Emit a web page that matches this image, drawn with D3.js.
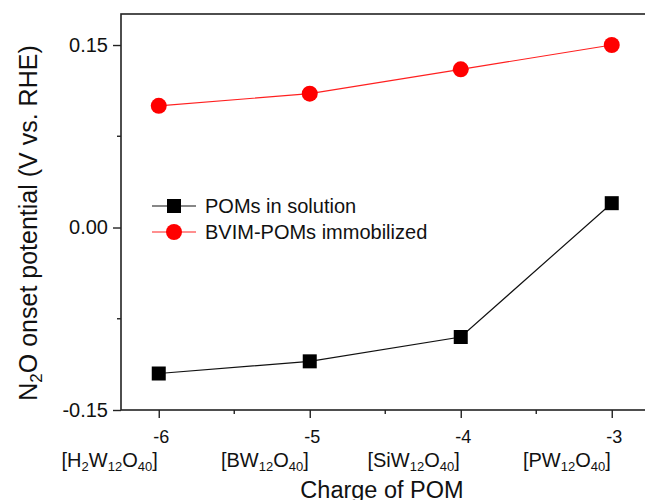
<!DOCTYPE html>
<html><head><meta charset="utf-8">
<script src="https://cdn.jsdelivr.net/npm/d3@7"></script>
<style>body{margin:0;background:#fff}svg{display:block}text{font-family:"Liberation Sans",Arial,sans-serif;fill:#111}</style>
</head><body><svg id="c" width="645" height="500"></svg>
<script>
const charges = [-6, -5, -4, -3];
const formulas = [
  [["[H",0],["2",1],["W",0],["12",1],["O",0],["40",1],["]",0]],
  [["[BW",0],["12",1],["O",0],["40",1],["]",0]],
  [["[SiW",0],["12",1],["O",0],["40",1],["]",0]],
  [["[PW",0],["12",1],["O",0],["40",1],["]",0]]
];
const solution = [-0.120, -0.110, -0.090, 0.020];
const immobilized = [0.100, 0.110, 0.130, 0.150];
const yTicks = [-0.15, 0.00, 0.15];
const yMinor = [-0.075, 0.075];
const xMinor = [-5.5, -4.5, -3.5];

const svg = d3.select("#c");
const L = 121, R = 649.5, T = 14, B = 410;
const x = d3.scaleLinear().domain([-6.25, -2.75]).range([L, R]);
const y = d3.scaleLinear().domain([-0.15, 0.1755]).range([B, T]);
const hy = s => s.replace("\u2212", "-");

// frame
svg.append("rect").attr("x", L).attr("y", T).attr("width", R - L).attr("height", B - T)
  .attr("fill", "none").attr("stroke", "#222").attr("stroke-width", 1.6);

// y axis
const ya = svg.append("g").attr("transform", `translate(${L},0)`)
  .call(d3.axisLeft(y).tickValues(yTicks).tickSize(8).tickPadding(5).tickFormat(d => hy(d3.format(".2f")(d))));
ya.select(".domain").remove();
ya.selectAll("line").attr("stroke", "#222").attr("stroke-width", 1.4);
ya.selectAll("text").attr("font-size", 20).style("fill", "#111");
svg.append("g").selectAll("line").data(yMinor).join("line")
  .attr("x1", L - 4).attr("x2", L).attr("y1", d => y(d)).attr("y2", d => y(d))
  .attr("stroke", "#222").attr("stroke-width", 1.4);

// x axis
const xa = svg.append("g").attr("transform", `translate(0,${B})`)
  .call(d3.axisBottom(x).tickValues(charges).tickSize(8).tickPadding(6).tickFormat(d => String(d)));
xa.select(".domain").remove();
xa.selectAll("line").attr("stroke", "#222").attr("stroke-width", 1.4);
xa.selectAll("text").attr("font-size", 18).attr("dx", 2).attr("y", 20).attr("dy", "0.71em").style("fill", "#111");
svg.append("g").selectAll("line").data(xMinor).join("line")
  .attr("x1", d => x(d)).attr("x2", d => x(d)).attr("y1", B).attr("y2", B + 4)
  .attr("stroke", "#222").attr("stroke-width", 1.4);

// formula labels
charges.forEach((c, i) => {
  const t = svg.append("text").attr("x", x(c) - 1).attr("y", 467).attr("text-anchor", "end")
    .attr("font-size", 20);
  formulas[i].forEach(([s, sub]) => {
    const ts = t.append("tspan").text(s);
    if (sub) ts.attr("font-size", 13).attr("baseline-shift", "-4");
  });
});

// series
const line = d3.line().x((d, i) => x(charges[i])).y(d => y(d));
svg.append("path").datum(solution).attr("d", line).attr("fill", "none").attr("stroke", "#111").attr("stroke-width", 1.2);
svg.append("path").datum(immobilized).attr("d", line).attr("fill", "none").attr("stroke", "#ff2020").attr("stroke-width", 1.2);
svg.append("g").selectAll("rect").data(solution).join("rect")
  .attr("x", (d, i) => x(charges[i]) - 7).attr("y", d => y(d) - 7).attr("width", 14).attr("height", 14).attr("fill", "#000");
svg.append("g").selectAll("circle").data(immobilized).join("circle")
  .attr("cx", (d, i) => x(charges[i])).attr("cy", d => y(d)).attr("r", 8).attr("fill", "#ff0000");

// legend
const lg = svg.append("g");
lg.append("line").attr("x1", 152).attr("x2", 196).attr("y1", 206).attr("y2", 206).attr("stroke", "#111").attr("stroke-width", 1.2);
lg.append("rect").attr("x", 167).attr("y", 199).attr("width", 14).attr("height", 14).attr("fill", "#000");
lg.append("text").attr("x", 205).attr("y", 213).attr("font-size", 20).text("POMs in solution");
lg.append("line").attr("x1", 152).attr("x2", 196).attr("y1", 232).attr("y2", 232).attr("stroke", "#ff2020").attr("stroke-width", 1.2);
lg.append("circle").attr("cx", 174).attr("cy", 232).attr("r", 8).attr("fill", "#ff0000");
lg.append("text").attr("x", 205).attr("y", 239).attr("font-size", 20).text("BVIM-POMs immobilized");

// axis titles
svg.append("text").attr("x", 382).attr("y", 498).attr("text-anchor", "middle").attr("font-size", 23.5).text("Charge of POM");
const yt = svg.append("text").attr("transform", "translate(37,223) rotate(-90)").attr("text-anchor", "middle").attr("font-size", 25);
yt.append("tspan").text("N");
yt.append("tspan").text("2").attr("font-size", 17).attr("baseline-shift", "-5");
yt.append("tspan").text("O onset potential (V vs. RHE)");
</script></body></html>
